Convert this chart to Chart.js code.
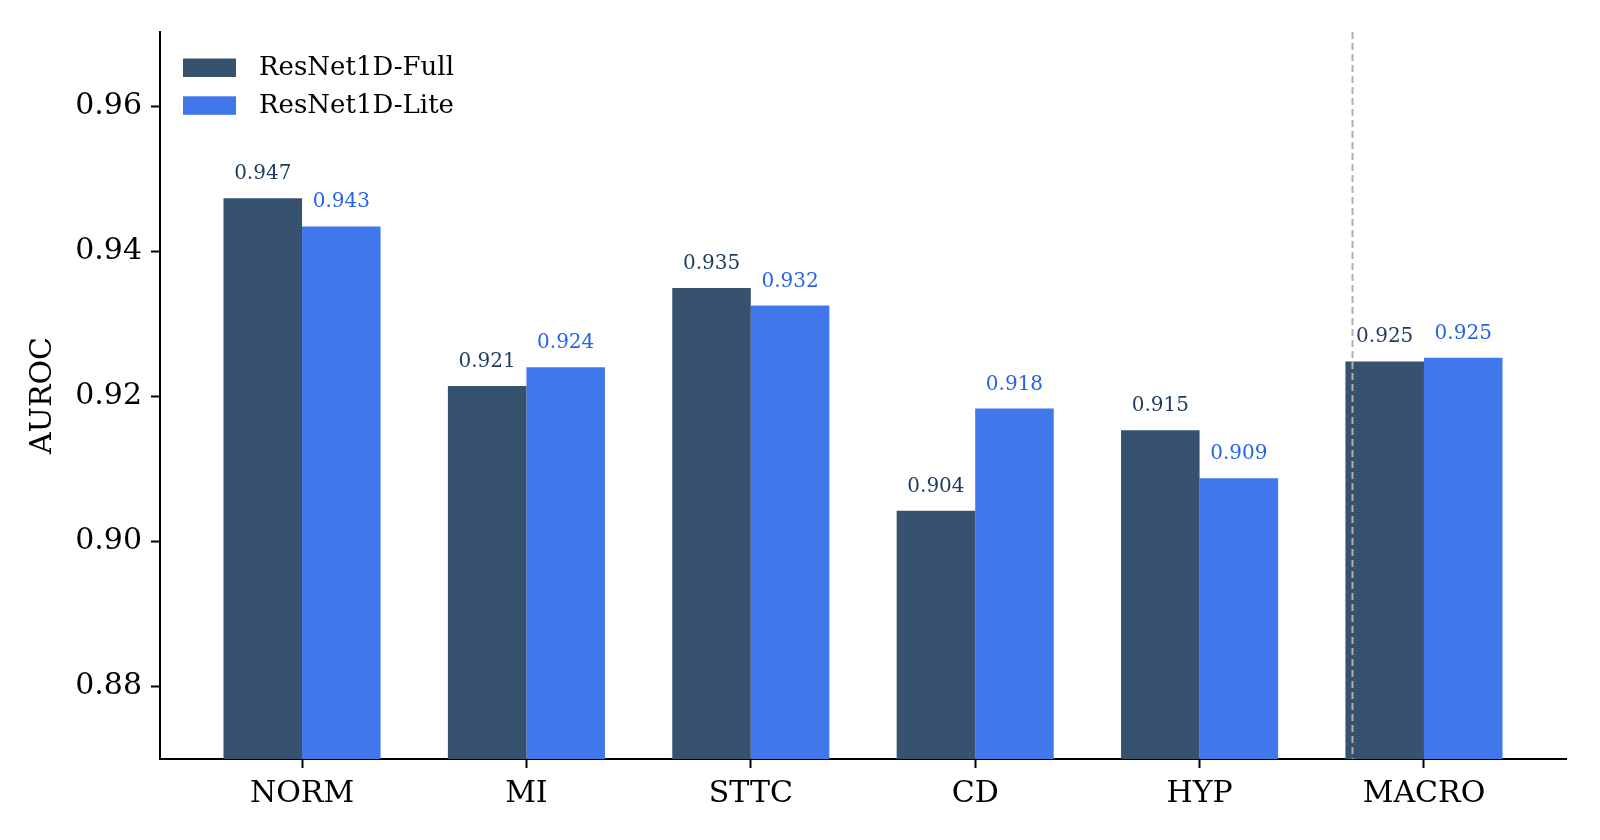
<!DOCTYPE html>
<html>
<head>
<meta charset="utf-8">
<script src="https://cdn.jsdelivr.net/npm/chart.js@4/dist/chart.umd.min.js"></script>
<style>
  html, body { margin: 0; padding: 0; background: #fff; }
  canvas { display: block; }
</style>
</head>
<body>
<canvas id="chart" width="1600" height="840"></canvas>
<script>
const categories = ["NORM", "MI", "STTC", "CD", "HYP", "MACRO"];
const fullAuroc  = [0.9473, 0.9214, 0.9349, 0.9042, 0.9153, 0.9248];
const liteAuroc  = [0.9434, 0.9240, 0.9325, 0.9183, 0.9087, 0.9253];
const seriesNames = ["ResNet1D-Full", "ResNet1D-Lite"];
const yTicks = [0.88, 0.90, 0.92, 0.94, 0.96];
const macroDivider = 4.68;

const C = {
  full:      "#37526e",
  fullText:  "#1e3a5f",
  lite:      "#4077eb",
  liteText:  "#2563eb",
  divider:   "#b0b0b0",
  axis:      "#000000",
};
const FONT = "'DejaVu Serif', 'Liberation Serif', serif";

// value labels above each bar
const barLabels = {
  id: "barLabels",
  afterDatasetsDraw(chart) {
    const { ctx } = chart;
    ctx.save();
    ctx.font = `20px ${FONT}`;
    ctx.textAlign = "center";
    ctx.textBaseline = "alphabetic";
    chart.data.datasets.forEach((ds, di) => {
      const meta = chart.getDatasetMeta(di);
      ctx.fillStyle = di === 0 ? C.fullText : C.liteText;
      meta.data.forEach((bar, i) => {
        ctx.fillText(ds.data[i].y.toFixed(3), bar.x, bar.y - 19);
      });
    });
    ctx.restore();
  },
};

// dashed separator before MACRO
const divider = {
  id: "divider",
  afterDatasetsDraw(chart) {
    const { ctx, chartArea, scales } = chart;
    const x = Math.round(scales.x.getPixelForValue(macroDivider)) + 0.5;
    ctx.save();
    ctx.strokeStyle = C.divider;
    ctx.lineWidth = 2;
    ctx.setLineDash([7, 4]);
    ctx.beginPath();
    ctx.moveTo(x, chartArea.top);
    ctx.lineTo(x, chartArea.bottom);
    ctx.stroke();
    ctx.restore();
  },
};

// matplotlib-like legend in the upper left
const legendBox = {
  id: "legendBox",
  afterDraw(chart) {
    const { ctx } = chart;
    const colors = [C.full, C.lite];
    ctx.save();
    ctx.font = `26px ${FONT}`;
    ctx.textBaseline = "middle";
    ctx.textAlign = "left";
    seriesNames.forEach((name, i) => {
      const cy = 67.5 + i * 37.8;
      ctx.fillStyle = colors[i];
      ctx.fillRect(183, cy - 9, 53, 18.5);
      ctx.fillStyle = "#000";
      ctx.fillText(name, 259, cy + 1);
    });
    ctx.restore();
  },
};

const toPoints = arr => arr.map((v, i) => ({ x: i, y: v }));

new Chart(document.getElementById("chart"), {
  type: "bar",
  data: {
    datasets: [
      {
        label: seriesNames[0],
        data: toPoints(fullAuroc),
        backgroundColor: C.full,
        borderWidth: 0,
        categoryPercentage: 0.7,
        barPercentage: 1.0,
      },
      {
        label: seriesNames[1],
        data: toPoints(liteAuroc),
        backgroundColor: C.lite,
        borderWidth: 0,
        categoryPercentage: 0.7,
        barPercentage: 1.0,
      },
    ],
  },
  options: {
    responsive: false,
    animation: false,
    devicePixelRatio: 1,
    layout: { padding: { top: 32, right: 34, left: 0, bottom: 0 } },
    plugins: {
      legend: { display: false },
      tooltip: { enabled: false },
    },
    scales: {
      x: {
        type: "linear",
        offset: false,
        min: -0.633,
        max: 5.633,
        afterBuildTicks: s => { s.ticks = categories.map((_, i) => ({ value: i })); },
        afterFit: s => { s.height = 81; },
        grid: { display: true, offset: false, drawOnChartArea: false, drawTicks: true, tickLength: 9, tickWidth: 2, tickColor: C.axis },
        border: { display: true, color: C.axis, width: 2 },
        ticks: {
          color: "#000",
          font: { family: FONT, size: 30 },
          padding: 8,
          autoSkip: false,
          maxRotation: 0,
          callback: (v, i) => categories[i],
        },
      },
      y: {
        min: 0.87,
        max: 0.9702,
        afterBuildTicks: s => { s.ticks = yTicks.map(v => ({ value: v })); },
        afterFit: s => { s.width = 160; },
        grid: { display: true, drawOnChartArea: false, drawTicks: true, tickLength: 9, tickWidth: 2, tickColor: C.axis },
        border: { display: true, color: C.axis, width: 2 },
        ticks: {
          color: "#000",
          font: { family: FONT, size: 30 },
          padding: 9,
          callback: v => v.toFixed(2),
        },
        title: {
          display: true,
          text: "AUROC",
          color: "#000",
          font: { family: FONT, size: 30 },
          padding: { top: 25, bottom: 0 },
        },
      },
    },
  },
  plugins: [divider, barLabels, legendBox],
});
</script>
</body>
</html>
